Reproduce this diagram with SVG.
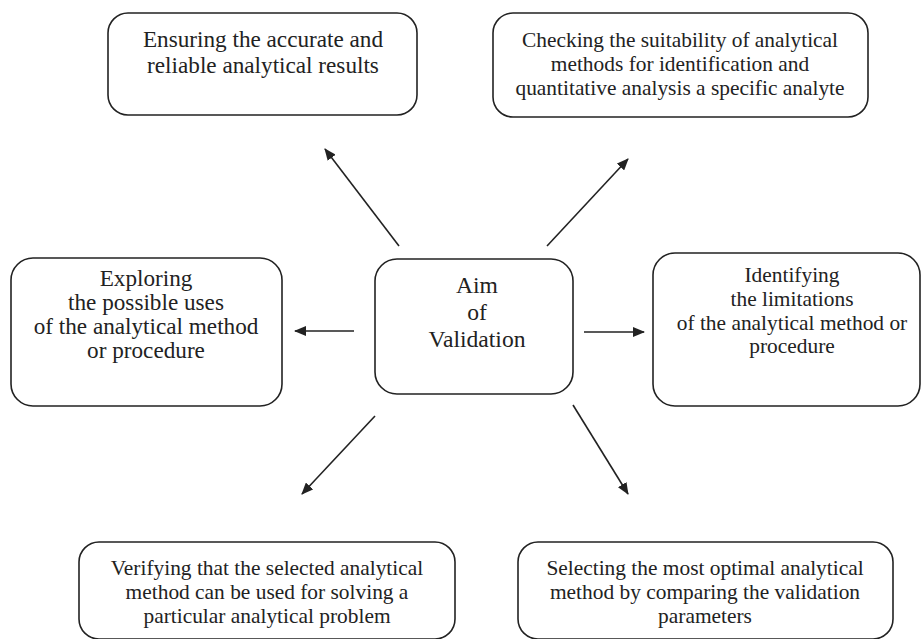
<svg xmlns="http://www.w3.org/2000/svg" width="921" height="639" viewBox="0 0 921 639">
<defs>
<style>
.box{fill:#fff;stroke:#222;stroke-width:1.6}
.t{font-family:"Liberation Serif","Times New Roman",serif;font-size:22px;fill:#222;text-anchor:middle}
.lg{font-size:23.2px}
.sm{font-size:21.4px}
.c{stroke:#222;stroke-width:1.6;fill:none;marker-end:url(#ah)}
</style>
<marker id="ah" viewBox="0 0 12 10" refX="11" refY="5" markerWidth="12" markerHeight="10" markerUnits="userSpaceOnUse" orient="auto">
<path d="M0,0 L12,5 L0,10 Z" fill="#222"/>
</marker>
</defs>
<rect width="921" height="639" fill="#fff"/>
<g id="connectors">
<line class="c" x1="399" y1="246" x2="325" y2="149"/>
<line class="c" x1="547" y1="246" x2="628" y2="159"/>
<line class="c" x1="354" y1="331" x2="295" y2="331"/>
<line class="c" x1="584" y1="332" x2="644" y2="332"/>
<line class="c" x1="375" y1="416" x2="302" y2="494"/>
<line class="c" x1="573" y1="405" x2="628" y2="494"/>
</g>
<g id="n-ensuring">
<rect class="box" x="108" y="13" width="309" height="102" rx="20"/>
<text class="t lg" x="263" y="47">Ensuring the accurate and</text>
<text class="t lg" x="263" y="73">reliable analytical results</text>
</g>
<g id="n-checking">
<rect class="box" x="493" y="13" width="375" height="104" rx="20"/>
<text class="t sm" x="680" y="47">Checking the suitability of analytical</text>
<text class="t sm" x="680" y="71">methods for identification and</text>
<text class="t sm" x="680" y="95">quantitative analysis a specific analyte</text>
</g>
<g id="n-exploring">
<rect class="box" x="11" y="258" width="271" height="148" rx="22"/>
<text class="t lg" x="146" y="286">Exploring</text>
<text class="t lg" x="146" y="310">the possible uses</text>
<text class="t lg" x="146" y="334">of the analytical method</text>
<text class="t lg" x="146" y="358">or procedure</text>
</g>
<g id="n-aim">
<rect class="box" x="375" y="259" width="198" height="135" rx="22"/>
<text class="t" style="font-size:23.6px" x="477" y="293">Aim</text>
<text class="t" style="font-size:23.6px" x="477" y="320">of</text>
<text class="t" style="font-size:23.6px" x="477" y="347">Validation</text>
</g>
<g id="n-identifying">
<rect class="box" x="653" y="253" width="267" height="153" rx="22"/>
<text class="t sm" x="792" y="282">Identifying</text>
<text class="t sm" x="792" y="306">the limitations</text>
<text class="t sm" x="792" y="330">of the analytical method or</text>
<text class="t sm" x="792" y="353">procedure</text>
</g>
<g id="n-verifying">
<rect class="box" x="79" y="542" width="376" height="97" rx="20"/>
<text class="t sm" x="267" y="575">Verifying that the selected analytical</text>
<text class="t sm" x="267" y="599">method can be used for solving a</text>
<text class="t sm" x="267" y="623">particular analytical problem</text>
</g>
<g id="n-selecting">
<rect class="box" x="518" y="542" width="375" height="97" rx="20"/>
<text class="t sm" x="705" y="575">Selecting the most optimal analytical</text>
<text class="t sm" x="705" y="599">method by comparing the validation</text>
<text class="t sm" x="705" y="623">parameters</text>
</g>
</svg>
